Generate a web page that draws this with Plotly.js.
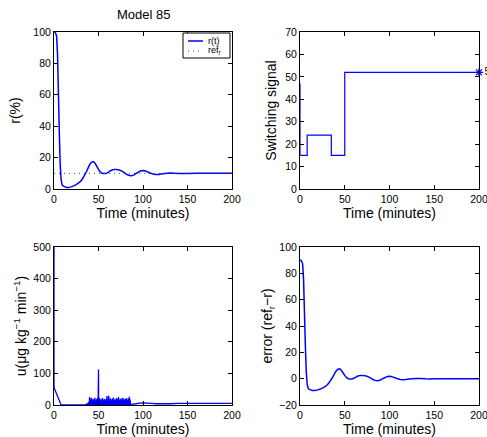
<!DOCTYPE html>
<html><head><meta charset="utf-8">
<script src="https://cdn.plot.ly/plotly-3.0.1.min.js"></script>
<style>html,body{margin:0;padding:0;background:#fff}#g{width:487px;height:437px}</style>
</head><body><div id="g"></div>
<script>
// r(t) response
const tR = [0,1,2,3,4,5,6,7,8,9,10,12,14,16,18,20,22,25,28,30,32,34,36,38,40,42,44,45,46,48,50,52,54,56,58,60,62,64,66,68,70,72,74,76,78,80,82,84,86,88,90,92,94,96,98,100,102,104,106,108,110,112,115,118,120,125,130,135,140,145,150,160,170,180,190,200];
const rVals = [100,100,99,97,85,60,35,15,6,3,2,1.5,1,1,1.2,1.5,2,2.8,4,5,6.5,8.5,10.5,13,15.5,17,17.5,17.2,16.5,14.5,12.5,10.8,10,9.8,9.8,10.3,11,11.8,12.3,12.5,12.5,12.3,12,11.5,10.8,10,9.2,8.7,8.5,8.6,9,9.8,10.5,11.2,11.6,11.8,11.6,11.2,10.7,10.2,9.8,9.4,9.2,9.3,9.5,9.9,10.2,10.1,9.9,9.8,9.9,10,10,10,10,10];
const refT = [0,200];
const refVals = [10,10];
// error = r - ref
const eVals = [90,90,89,87,75,50,25,5,-4,-7,-8,-8.5,-9,-9,-8.8,-8.5,-8,-7.2,-6,-5,-3.5,-1.5,0.5,3,5.5,7,7.5,7.2,6.5,4.5,2.5,0.8,0,-0.2,-0.2,0.3,1,1.8,2.3,2.5,2.5,2.3,2,1.5,0.8,0,-0.8,-1.3,-1.5,-1.4,-1,-0.2,0.5,1.2,1.6,1.8,1.6,1.2,0.7,0.2,-0.2,-0.6,-0.8,-0.7,-0.5,-0.1,0.2,0.1,-0.1,-0.2,-0.1,0,0,0,0,0];
// switching signal
const sT = [0,0,8,8,35,35,50,50,200];
const sVals = [47,15,15,24,24,15,15,52,52];
const sFinalT = [200];
const sFinalV = [52];
const sFinalLabel = ['52'];
// control input u
const uT = [0,0,8,20,36,37,37.5,38,38.5,39,39.5,40,40.5,41,41.5,42,42.5,43,43.5,44,44.5,45,45.5,46,46.5,47,47.5,48,48.5,49,49.3,49.6,50,50.2,50.5,51,51.5,52,52.5,53,53.5,54,54.5,55,55.5,56,56.5,57,57.5,58,58.5,59,59.5,60,60.5,61,61.5,62,62.5,63,63.5,64,64.5,65,65.5,66,66.5,67,67.5,68,68.5,69,69.5,70,70.5,71,71.5,72,72.5,73,73.5,74,74.5,75,75.5,76,76.5,77,77.5,78,78.5,79,79.5,80,80.5,81,81.5,82,82.5,83,83.5,84,84.5,85,85.5,86,88,92,96,100,105,110,115,120,130,140,150,160,170,180,190,200];
const uVals = [500,55,0,0,0,4,0,6,0,9,0,25,0,18,0,22,0,15,0,20,0,17,0,23,0,14,0,19,0,24,0,14,112,0,16,0,21,0,14,0,18,0,22,0,15,0,19,0,13,0,20,0,28,0,18,0,29,0,17,0,21,0,15,0,19,0,24,0,16,0,20,0,14,0,22,0,18,0,25,0,16,0,20,0,15,0,23,0,17,0,21,0,14,0,19,0,22,0,16,0,20,0,26,0,18,0,3,4,6,7,6,5,4,4,4,5,5,5,5,5,5,5];
// legend labels
const legendLabels = ['r(t)', 'ref<sub>r</sub>'];

const blue = '#0000ff';
const F = 'Liberation Sans, Arial, Helvetica, sans-serif';
const traces = [
  {x:tR, y:rVals, type:'scatter', mode:'lines', line:{color:blue,width:1.5,simplify:false}, showlegend:false, xaxis:'x', yaxis:'y'},
  {x:refT, y:refVals, type:'scatter', mode:'lines', line:{color:'#444',width:1,dash:'1px,4px'}, showlegend:false, xaxis:'x', yaxis:'y'},
  {x:sT, y:sVals, type:'scatter', mode:'lines', line:{color:blue,width:1.2}, showlegend:false, xaxis:'x2', yaxis:'y2'},
  {x:sFinalT, y:sFinalV, text:sFinalLabel, type:'scatter', mode:'markers+text', textposition:'middle right', textfont:{family:F,size:10,color:'#000'}, marker:{symbol:'asterisk-open',size:7,color:blue,line:{color:blue,width:1.2}}, showlegend:false, cliponaxis:false, xaxis:'x2', yaxis:'y2'},
  {x:uT, y:uVals, type:'scatter', mode:'lines', line:{color:blue,width:1.3,simplify:false}, showlegend:false, xaxis:'x3', yaxis:'y3'},
  {x:tR, y:eVals, type:'scatter', mode:'lines', line:{color:blue,width:1.5,simplify:false}, showlegend:false, xaxis:'x4', yaxis:'y4'}
];

function ax(extra){
  return Object.assign({showline:true, linecolor:'#000', linewidth:1, mirror:'ticks', ticks:'inside', ticklen:4, tickcolor:'#000',
    showgrid:false, zeroline:false, ticklabeloverflow:'allow', tickfont:{family:F,size:10.5,color:'#000'}}, extra);
}
const xt = {text:'Time (minutes)', font:{family:F,size:14,color:'#000'}, standoff:1};
function yt(t, s){ return {text:t, font:{family:F,size:14,color:'#000'}, standoff:s}; }

const W=487,H=437;
const xL=[54/W,232/W], xR=[300/W,479/W];
const yT=[1-189/H,1-32/H], yB=[1-405/H,1-247/H];
const px=(v)=>v/W, py=(v)=>1-v/H;

const layout = {
  width:W, height:H, margin:{l:0,r:0,t:0,b:0}, paper_bgcolor:'#fff', plot_bgcolor:'#fff',
  font:{family:F,color:'#000'},
  showlegend:false,
  xaxis: ax({domain:xL, range:[0,200], tickvals:[0,50,100,150,200], title:xt, anchor:'y'}),
  yaxis: ax({domain:yT, range:[0,100], tickvals:[0,20,40,60,80,100], title:yt('r(%)',9), anchor:'x'}),
  xaxis2: ax({domain:xR, range:[0,200], tickvals:[0,50,100,150,200], title:xt, anchor:'y2'}),
  yaxis2: ax({domain:yT, range:[0,70], tickvals:[0,10,20,30,40,50,60,70], title:yt('Switching signal',5), anchor:'x2'}),
  xaxis3: ax({domain:xL, range:[0,200], tickvals:[0,50,100,150,200], title:xt, anchor:'y3'}),
  yaxis3: ax({domain:yB, range:[0,500], tickvals:[0,100,200,300,400,500], title:yt('u(μg kg<sup>−1</sup> min<sup>−1</sup>)',3), anchor:'x3'}),
  xaxis4: ax({domain:xR, range:[0,200], tickvals:[0,50,100,150,200], title:xt, anchor:'y4'}),
  yaxis4: ax({domain:yB, range:[-20,100], tickvals:[-20,0,20,40,60,80,100], ticktext:['−20','0','20','40','60','80','100'], title:yt('error (ref<sub>r</sub>−r)',3), anchor:'x4'}),
  shapes:[
    {type:'rect', xref:'paper', yref:'paper', x0:px(183), x1:px(230), y0:py(58), y1:py(33), line:{color:'#000',width:1}, fillcolor:'#fff', layer:'above'},
    {type:'line', xref:'paper', yref:'paper', x0:px(188), x1:px(203), y0:py(41), y1:py(41), line:{color:blue,width:1.5}, layer:'above'},
    {type:'line', xref:'paper', yref:'paper', x0:px(188), x1:px(203), y0:py(51), y1:py(51), line:{color:'#444',width:1,dash:'1px,4px'}, layer:'above'}
  ],
  annotations:[
    {text:'Model 85', xref:'paper', yref:'paper', x:143/W, y:1-14/H, xanchor:'center', yanchor:'middle', showarrow:false, font:{family:F,size:13,color:'#000'}},
    {text:legendLabels[0], xref:'paper', yref:'paper', x:px(206), y:py(41), xanchor:'left', yanchor:'middle', showarrow:false, font:{family:F,size:9,color:'#000'}},
    {text:legendLabels[1], xref:'paper', yref:'paper', x:px(206), y:py(51), xanchor:'left', yanchor:'middle', showarrow:false, font:{family:F,size:9,color:'#000'}}
  ]
};
Plotly.newPlot('g', traces, layout, {displayModeBar:false, staticPlot:true});
</script></body></html>
